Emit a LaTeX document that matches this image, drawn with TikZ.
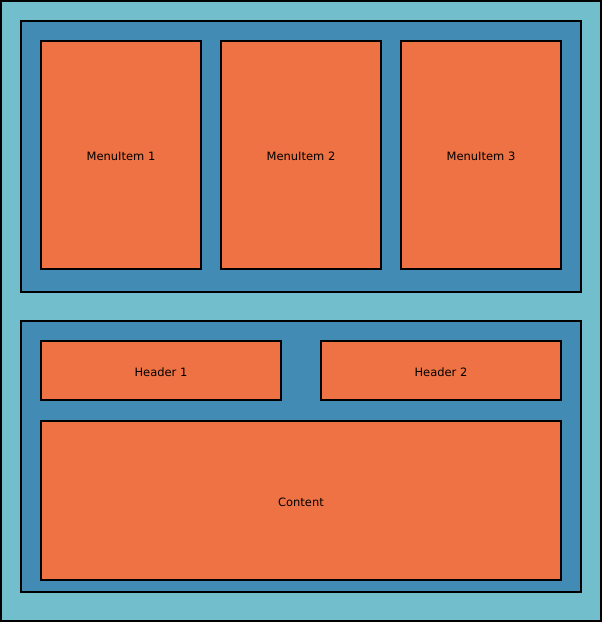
\documentclass[tikz,border=0pt]{standalone}
\usepackage{fontspec}
\setmainfont{DejaVu Sans}
\definecolor{pagebg}{RGB}{115,190,205}
\definecolor{panel}{RGB}{66,139,181}
\definecolor{item}{RGB}{238,114,67}
\begin{document}
\begin{tikzpicture}[x=1pt,y=-1pt,
  box/.style={draw=black,line width=2pt},
  panelbox/.style={box,fill=panel},
  itembox/.style={box,fill=item},
  lbl/.style={font=\fontsize{11.5}{13}\selectfont,text=black,yshift=-1.5pt}]
\useasboundingbox (0,0) rectangle (604,624);
% page
\draw[box,fill=pagebg] (1,1) rectangle (601,621);
% menu panel
\draw[panelbox] (21,21) rectangle (581,292);
\draw[itembox] (41,41) rectangle (201,269) node[midway,lbl] (m1) {MenuItem 1};
\draw[itembox] (221,41) rectangle (381,269) node[midway,lbl] (m2) {MenuItem 2};
\draw[itembox] (401,41) rectangle (561,269) node[midway,lbl] (m3) {MenuItem 3};
% content panel
\draw[panelbox] (21,321) rectangle (581,592);
\draw[itembox] (41,341) rectangle (281,400) node[midway,lbl] (h1) {Header 1};
\draw[itembox] (321,341) rectangle (561,400) node[midway,lbl] (h2) {Header 2};
\draw[itembox] (41,421) rectangle (561,580) node[midway,lbl] (c) {Content};
\end{tikzpicture}
\end{document}
